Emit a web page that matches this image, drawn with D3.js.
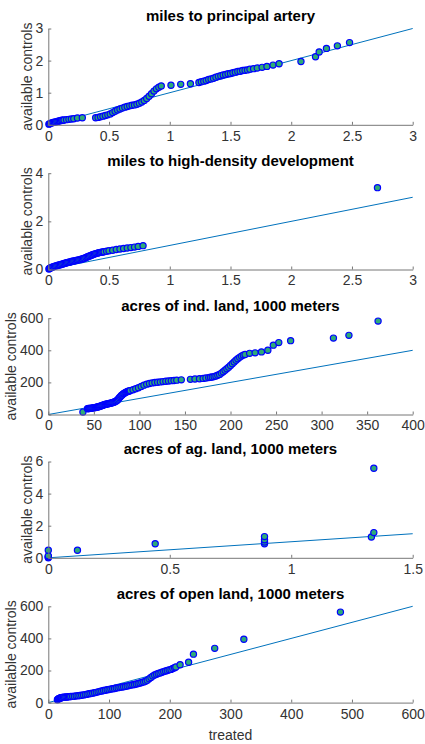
<!DOCTYPE html>
<html>
<head>
<meta charset="utf-8">
<script src="https://cdn.jsdelivr.net/npm/d3@7"></script>
<style>
  body { margin: 0; background: #fff; }
  svg { display: block; font-family: "Liberation Sans", Arial, sans-serif; }
</style>
</head>
<body>
<svg class="chart" width="425" height="744"></svg>
<script>
// qq points, treated (x) vs available controls (y)

// miles to principal artery
let p1x = [0.005,0.01,0.02,0.03,0.04,0.05,0.06,0.07,0.08,0.09,0.10,0.11,0.12,0.13,0.15,0.17,0.19,0.21,0.24,0.28,
  0.39,0.41,0.43,0.45,0.47,0.49,0.51,0.53,0.55,0.57,0.59,0.61,0.63,0.65,0.67,0.69,0.71,0.73,0.75,0.77,0.79,0.81,0.83,0.85,0.87,0.89,0.91,0.93,
  1.01,1.09,1.17,
  1.24,1.26,1.28,1.30,1.32,1.34,1.36,1.38,1.40,1.42,1.44,1.46,1.48,1.50,1.52,1.54,1.56,1.58,1.60,1.62,1.64,1.66,1.69,1.72,1.76,1.80,1.85,1.90,
  2.08,2.20,2.23,2.29,2.38,2.48];
let p1y = [0.02,0.03,0.05,0.06,0.07,0.08,0.09,0.10,0.11,0.12,0.13,0.14,0.14,0.15,0.16,0.17,0.18,0.19,0.21,0.22,
  0.22,0.23,0.25,0.27,0.29,0.31,0.34,0.38,0.42,0.46,0.49,0.52,0.55,0.57,0.59,0.61,0.62,0.64,0.67,0.71,0.76,0.82,0.89,0.97,1.05,1.12,1.17,1.21,
  1.23,1.26,1.28,
  1.32,1.34,1.36,1.38,1.41,1.43,1.45,1.48,1.51,1.53,1.55,1.57,1.59,1.60,1.62,1.64,1.66,1.67,1.69,1.70,1.71,1.73,1.75,1.77,1.79,1.82,1.86,1.90,
  1.97,2.12,2.27,2.38,2.46,2.56];

// miles to high-density development
let p2x = [0.005,0.01,0.015,0.02,0.025,0.03,0.035,0.04,0.05,0.06,0.07,0.08,0.09,0.10,0.11,0.12,0.13,0.14,0.15,0.16,0.17,0.18,0.19,0.20,
  0.21,0.22,0.23,0.24,0.25,0.26,0.27,0.28,0.29,0.30,0.31,0.32,0.33,0.34,0.35,0.36,0.37,0.38,0.39,0.40,0.41,0.42,0.43,0.44,0.45,0.46,
  0.48,0.50,0.53,0.56,0.59,0.62,0.65,0.68,0.71,0.74,0.78,2.71];
let p2y = [0.02,0.04,0.05,0.07,0.08,0.09,0.10,0.11,0.13,0.15,0.16,0.18,0.19,0.20,0.22,0.23,0.25,0.26,0.28,0.29,0.30,0.31,0.33,0.34,
  0.35,0.36,0.38,0.39,0.40,0.41,0.43,0.44,0.46,0.47,0.50,0.52,0.54,0.56,0.58,0.60,0.62,0.64,0.66,0.67,0.69,0.70,0.71,0.72,0.73,0.74,
  0.76,0.78,0.80,0.83,0.85,0.87,0.89,0.91,0.93,0.96,0.99,3.40];

// acres of ind. land, 1000 meters
let p3x = [38,43,44,45,46,47,48,49,50,51,52,53,54,55,56,57,58,59,60,61,62,63,64,65,66,67,68,69,70,71,72,73,74,75,76,77,78,79,80,
  81,82,83,84,85,86,87,88,89,90,93,96,99,102,105,108,111,114,117,120,123,126,129,132,135,138,141,146,156,161,166,170,173,
  176,178,180,182,184,186,188,190,192,194,196,198,200,202,204,206,208,210,212,214,216,
  221,227,234,241,247,253,266,313,330,362];
let p3y = [15,36,37,37,38,39,40,41,42,43,44,45,47,48,50,52,54,56,58,60,62,63,65,66,68,69,70,71,73,75,77,79,82,86,90,97,104,110,117,
  122,127,131,135,138,141,143,145,147,149,154,160,167,175,183,189,193,197,199,201,203,205,207,209,211,212,214,216,219,221,223,225,227,
  230,232,234,236,240,245,250,258,266,276,285,295,305,316,327,338,347,356,364,370,374,
  381,384,390,400,432,448,460,476,493,582];

// acres of ag. land, 1000 meters
let p4x = [0,0,0,0,0,0.12,0.44,0.89,0.89,0.89,0.89,1.33,1.34,1.34];
let p4y = [0,0.03,0.07,0.12,0.47,0.47,0.88,0.88,0.98,1.12,1.32,1.30,1.57,5.58];

// acres of open land, 1000 meters
let p5x = [15,16,17,18,19,20,21,22,23,25,27,29,31,33,35,37,40,43,46,49,52,55,58,61,64,67,70,73,76,79,82,85,88,91,94,97,
  100,103,106,109,112,115,118,121,124,127,130,133,136,139,142,145,148,151,154,157,160,163,166,169,172,175,178,181,184,187,
  190,193,196,199,202,205,208,210,217,231,239,274,322,481];
let p5y = [18,21,24,26,28,29,30,31,32,33,34,35,35,36,37,38,39,40,42,43,44,46,48,50,52,55,57,59,62,64,67,70,72,75,77,80,
  82,84,86,88,91,93,95,97,99,101,104,106,109,111,113,116,119,122,125,129,133,139,148,157,165,172,177,181,185,189,
  193,197,200,204,207,212,217,222,236,251,302,338,395,564];

let titles = ["miles to principal artery", "miles to high-density development", "acres of ind. land, 1000 meters",
  "acres of ag. land, 1000 meters", "acres of open land, 1000 meters"];
let xDomains = [[0, 3], [0, 3], [0, 400], [0, 1.5], [0, 600]];
let yDomains = [[0, 3], [0, 4], [0, 600], [0, 6], [0, 600]];
let xTicks = [[0, 0.5, 1, 1.5, 2, 2.5, 3], [0, 0.5, 1, 1.5, 2, 2.5, 3], [0, 50, 100, 150, 200, 250, 300, 350, 400],
  [0, 0.5, 1, 1.5], [0, 100, 200, 300, 400, 500, 600]];
let yTicks = [[0, 1, 2, 3], [0, 2, 4], [0, 200, 400, 600], [0, 2, 4, 6], [0, 200, 400, 600]];

let xs = [p1x, p2x, p3x, p4x, p5x];
let ys = [p1y, p2y, p3y, p4y, p5y];

// layout
let left = 48.3, right = 412.7, h = 96.3;
let tops = [28.5, 173.2, 318.2, 461.5, 606.3];

let svg = d3.select(".chart");

tops.forEach((top, i) => {
  let x = d3.scaleLinear().domain(xDomains[i]).range([left, right]);
  let y = d3.scaleLinear().domain(yDomains[i]).range([top + h, top]);
  let g = svg.append("g");

  // reference line y = x
  let end = xDomains[i][1];
  g.append("line")
    .attr("x1", x(0)).attr("y1", y(0))
    .attr("x2", x(end)).attr("y2", y(end))
    .style("stroke", "#0072bd")
    .style("stroke-width", 1);

  g.selectAll("circle")
    .data(d3.zip(xs[i], ys[i]))
    .enter().append("circle")
    .attr("cx", d => x(d[0]))
    .attr("cy", d => y(d[1]))
    .attr("r", 3.1)
    .style("fill", "#2eaa78")
    .style("stroke", "#0000ff")
    .style("stroke-width", 1.2);

  // axes, ticks pointing inside like matlab
  let xa = g.append("g")
    .attr("transform", "translate(0," + (top + h) + ")")
    .call(d3.axisBottom(x).tickValues(xTicks[i]).tickFormat(d => d)
      .tickSizeInner(-3).tickSizeOuter(0).tickPadding(6));
  let ya = g.append("g")
    .attr("transform", "translate(" + left + ",0)")
    .call(d3.axisLeft(y).tickValues(yTicks[i]).tickFormat(d => d)
      .tickSizeInner(-3).tickSizeOuter(0).tickPadding(5));

  [xa, ya].forEach(a => {
    a.select(".domain").style("stroke", "#777").style("stroke-width", 1);
    a.selectAll(".tick line").style("stroke", "#777");
    a.selectAll(".tick text")
      .style("font-family", "'Liberation Sans', Arial, sans-serif")
      .style("font-size", "14px")
      .style("fill", "#333");
  });

  // y label sits just left of the widest tick label
  let tickLeft = d3.min(ya.selectAll(".tick text").nodes(), n => n.getBBox().x) + left;
  g.append("text")
    .attr("transform", "translate(" + (tickLeft - 4) + "," + (top + h / 2) + ") rotate(-90)")
    .style("text-anchor", "middle")
    .style("font-size", "14px")
    .style("fill", "#333")
    .text("available controls");

  g.append("text")
    .attr("x", (left + right) / 2)
    .attr("y", top - 7.5)
    .style("text-anchor", "middle")
    .style("font-size", "15px")
    .style("font-weight", "bold")
    .style("fill", "#000")
    .text(titles[i]);
});

svg.append("text")
  .attr("x", (left + right) / 2)
  .attr("y", 740)
  .style("text-anchor", "middle")
  .style("font-size", "14px")
  .style("fill", "#333")
  .text("treated");
</script>
</body>
</html>
